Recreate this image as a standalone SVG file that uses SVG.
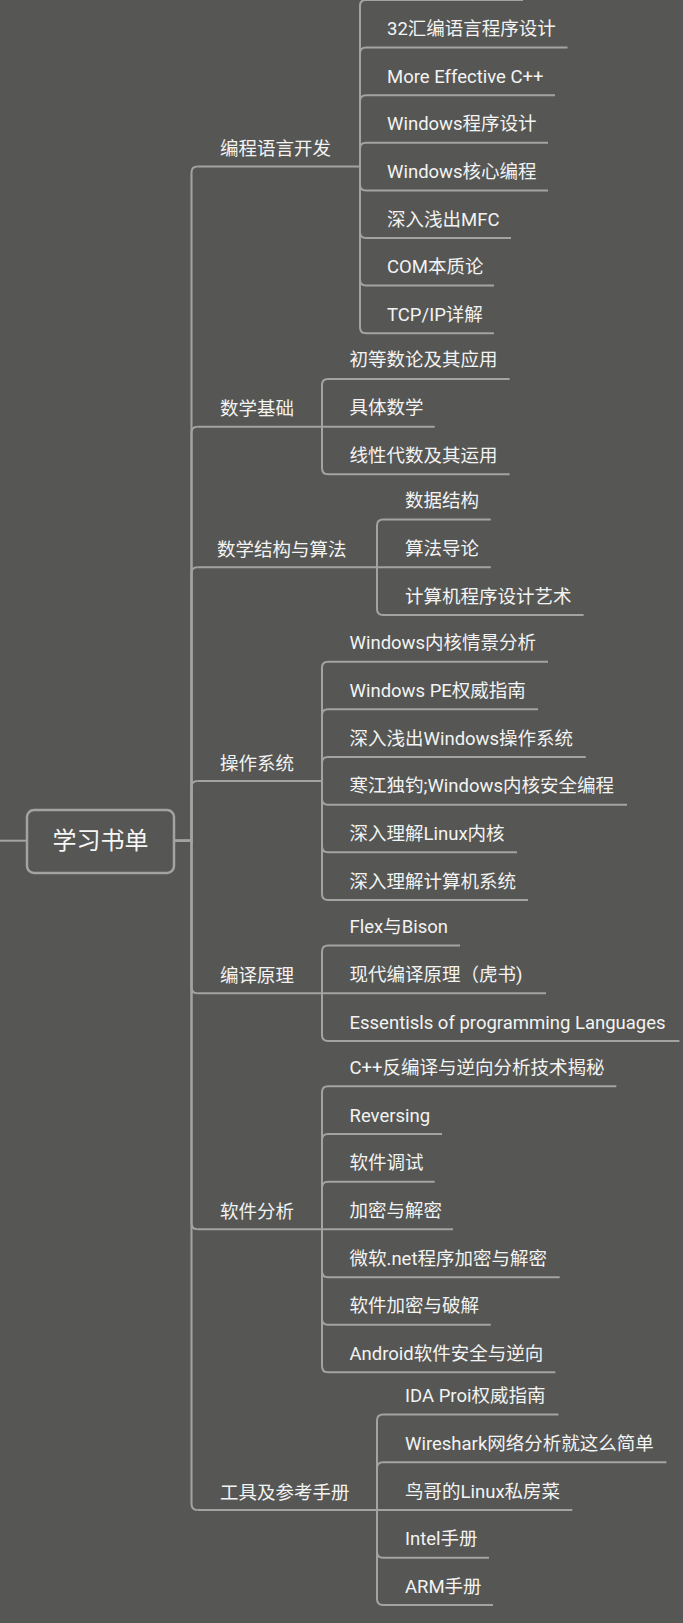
<svg xmlns="http://www.w3.org/2000/svg" width="683" height="1623" viewBox="0 0 683 1623">
<style>
.ln{fill:none;stroke:#a3a4a1;stroke-width:2;stroke-linecap:butt}
.t{font-family:Roboto,"Noto Sans CJK SC",sans-serif;font-size:18.5px;fill:#f3f3f3}
.ct{font-family:Roboto,"Noto Sans CJK SC",sans-serif;font-size:24px;fill:#f6f6f6;text-anchor:middle}
</style>
<rect x="0" y="0" width="683" height="1623" fill="#565754"/>
<g id="connectors" class="ln">
<path d="M0 840.7H27"/>
<path d="M174 840.7H191.5V172.5Q191.5 166.5 197.5 166.5"/>
<path d="M174 840.7H191.5V432.7Q191.5 426.7 197.5 426.7"/>
<path d="M174 840.7H191.5V573.3Q191.5 567.3 197.5 567.3"/>
<path d="M174 840.7H191.5V787Q191.5 781 197.5 781"/>
<path d="M174 840.7H191.5V987.3Q191.5 993.3 197.5 993.3"/>
<path d="M174 840.7H191.5V1223.3Q191.5 1229.3 197.5 1229.3"/>
<path d="M174 840.7H191.5V1504Q191.5 1510 197.5 1510"/>
<path d="M360 166.5V6Q360 0 366 0"/>
<path d="M360 166.5V53.6Q360 47.6 366 47.6"/>
<path d="M360 166.5V101.2Q360 95.2 366 95.2"/>
<path d="M360 166.5V148.8Q360 142.8 366 142.8"/>
<path d="M360 166.5V184.4Q360 190.4 366 190.4"/>
<path d="M360 166.5V232Q360 238 366 238"/>
<path d="M360 166.5V279.6Q360 285.6 366 285.6"/>
<path d="M360 166.5V327.2Q360 333.2 366 333.2"/>
<path d="M322 426.7V384.9Q322 378.9 328 378.9"/>
<path d="M322 426.7V468.3Q322 474.3 328 474.3"/>
<path d="M377 567.3V525.5Q377 519.5 383 519.5"/>
<path d="M377 567.3V609Q377 615 383 615"/>
<path d="M322 781V667.7Q322 661.7 328 661.7"/>
<path d="M322 781V715.3Q322 709.3 328 709.3"/>
<path d="M322 781V763Q322 757 328 757"/>
<path d="M322 781V798.7Q322 804.7 328 804.7"/>
<path d="M322 781V846.3Q322 852.3 328 852.3"/>
<path d="M322 781V894Q322 900 328 900"/>
<path d="M322 993.3V951.5Q322 945.5 328 945.5"/>
<path d="M322 993.3V1035Q322 1041 328 1041"/>
<path d="M322 1229.3V1092.3Q322 1086.3 328 1086.3"/>
<path d="M322 1229.3V1140Q322 1134 328 1134"/>
<path d="M322 1229.3V1187.7Q322 1181.7 328 1181.7"/>
<path d="M322 1229.3V1271.3Q322 1277.3 328 1277.3"/>
<path d="M322 1229.3V1318.7Q322 1324.7 328 1324.7"/>
<path d="M322 1229.3V1366.3Q322 1372.3 328 1372.3"/>
<path d="M377 1510V1420.5Q377 1414.5 383 1414.5"/>
<path d="M377 1510V1468.3Q377 1462.3 383 1462.3"/>
<path d="M377 1510V1551.7Q377 1557.7 383 1557.7"/>
<path d="M377 1510V1599Q377 1605 383 1605"/>
</g>
<g id="root">
<rect x="27" y="810" width="147" height="63" rx="7" fill="#565754" stroke="#a3a4a1" stroke-width="2.5"/>
<text class="ct" x="100.5" y="849">学习书单</text>
</g>
<g id="b1"><path class="ln" d="M197.5 166.5H360"/><text class="t" x="220" y="155">编程语言开发</text></g>
<g id="b1-0"><path class="ln" d="M366 0H523"/></g>
<g id="b1-1"><path class="ln" d="M366 47.6H567.5"/><text class="t" x="387" y="35.1">32汇编语言程序设计</text></g>
<g id="b1-2"><path class="ln" d="M366 95.2H555"/><text class="t" x="387" y="82.7">More Effective C++</text></g>
<g id="b1-3"><path class="ln" d="M366 142.8H548"/><text class="t" x="387" y="130.3">Windows程序设计</text></g>
<g id="b1-4"><path class="ln" d="M366 190.4H548"/><text class="t" x="387" y="177.9">Windows核心编程</text></g>
<g id="b1-5"><path class="ln" d="M366 238H511"/><text class="t" x="387" y="225.5">深入浅出MFC</text></g>
<g id="b1-6"><path class="ln" d="M366 285.6H494"/><text class="t" x="387" y="273.1">COM本质论</text></g>
<g id="b1-7"><path class="ln" d="M366 333.2H494"/><text class="t" x="387" y="320.7">TCP/IP详解</text></g>
<g id="b2"><path class="ln" d="M197.5 426.7H322"/><text class="t" x="220" y="415.2">数学基础</text></g>
<g id="b2-1"><path class="ln" d="M328 378.9H509.6"/><text class="t" x="349.5" y="366.4">初等数论及其应用</text></g>
<g id="b2-2"><path class="ln" d="M322 426.7H434.7"/><text class="t" x="349.5" y="414.2">具体数学</text></g>
<g id="b2-3"><path class="ln" d="M328 474.3H509.6"/><text class="t" x="349.5" y="461.8">线性代数及其运用</text></g>
<g id="b3"><path class="ln" d="M197.5 567.3H377"/><text class="t" x="217" y="555.8">数学结构与算法</text></g>
<g id="b3-1"><path class="ln" d="M383 519.5H490.8"/><text class="t" x="405" y="507">数据结构</text></g>
<g id="b3-2"><path class="ln" d="M377 567.3H490.8"/><text class="t" x="405" y="554.8">算法导论</text></g>
<g id="b3-3"><path class="ln" d="M383 615H583.6"/><text class="t" x="405" y="602.5">计算机程序设计艺术</text></g>
<g id="b4"><path class="ln" d="M197.5 781H322"/><text class="t" x="220" y="769.5">操作系统</text></g>
<g id="b4-1"><path class="ln" d="M328 661.7H548"/><text class="t" x="349.5" y="649.2">Windows内核情景分析</text></g>
<g id="b4-2"><path class="ln" d="M328 709.3H538"/><text class="t" x="349.5" y="696.8">Windows PE权威指南</text></g>
<g id="b4-3"><path class="ln" d="M328 757H585.8"/><text class="t" x="349.5" y="744.5">深入浅出Windows操作系统</text></g>
<g id="b4-4"><path class="ln" d="M328 804.7H627"/><text class="t" x="349.5" y="792.2">寒江独钓;Windows内核安全编程</text></g>
<g id="b4-5"><path class="ln" d="M328 852.3H517"/><text class="t" x="349.5" y="839.8">深入理解Linux内核</text></g>
<g id="b4-6"><path class="ln" d="M328 900H528"/><text class="t" x="349.5" y="887.5">深入理解计算机系统</text></g>
<g id="b5"><path class="ln" d="M197.5 993.3H322"/><text class="t" x="220" y="981.8">编译原理</text></g>
<g id="b5-1"><path class="ln" d="M328 945.5H460"/><text class="t" x="349.5" y="933">Flex与Bison</text></g>
<g id="b5-2"><path class="ln" d="M322 993.3H546"/><text class="t" x="349.5" y="980.8">现代编译原理（虎书)</text></g>
<g id="b5-3"><path class="ln" d="M328 1041H679.4"/><text class="t" x="349.5" y="1028.5">Essentisls of programming Languages</text></g>
<g id="b6"><path class="ln" d="M197.5 1229.3H322"/><text class="t" x="220" y="1217.8">软件分析</text></g>
<g id="b6-1"><path class="ln" d="M328 1086.3H616.3"/><text class="t" x="349.5" y="1073.8">C++反编译与逆向分析技术揭秘</text></g>
<g id="b6-2"><path class="ln" d="M328 1134H442"/><text class="t" x="349.5" y="1121.5">Reversing</text></g>
<g id="b6-3"><path class="ln" d="M328 1181.7H434.7"/><text class="t" x="349.5" y="1169.2">软件调试</text></g>
<g id="b6-4"><path class="ln" d="M322 1229.3H453"/><text class="t" x="349.5" y="1216.8">加密与解密</text></g>
<g id="b6-5"><path class="ln" d="M328 1277.3H559.7"/><text class="t" x="349.5" y="1264.8">微软.net程序加密与解密</text></g>
<g id="b6-6"><path class="ln" d="M328 1324.7H490.8"/><text class="t" x="349.5" y="1312.2">软件加密与破解</text></g>
<g id="b6-7"><path class="ln" d="M328 1372.3H555.3"/><text class="t" x="349.5" y="1359.8">Android软件安全与逆向</text></g>
<g id="b7"><path class="ln" d="M197.5 1510H377"/><text class="t" x="220" y="1498.5">工具及参考手册</text></g>
<g id="b7-1"><path class="ln" d="M383 1414.5H558.4"/><text class="t" x="405" y="1402">IDA Proi权威指南</text></g>
<g id="b7-2"><path class="ln" d="M383 1462.3H666.4"/><text class="t" x="405" y="1449.8">Wireshark网络分析就这么简单</text></g>
<g id="b7-3"><path class="ln" d="M377 1510H572.3"/><text class="t" x="405" y="1497.5">鸟哥的Linux私房菜</text></g>
<g id="b7-4"><path class="ln" d="M383 1557.7H489"/><text class="t" x="405" y="1545.2">Intel手册</text></g>
<g id="b7-5"><path class="ln" d="M383 1605H493"/><text class="t" x="405" y="1592.5">ARM手册</text></g>
</svg>
